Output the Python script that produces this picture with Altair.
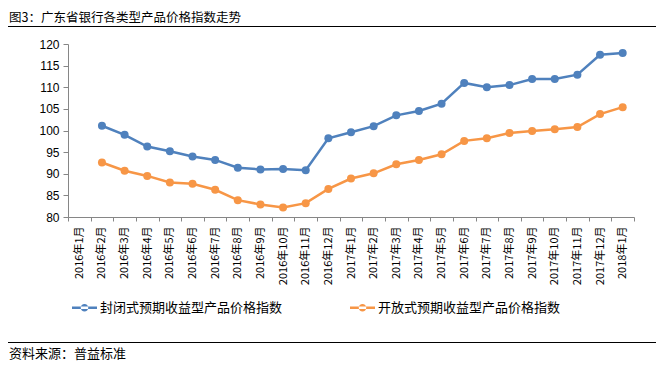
import altair as alt
import pandas as pd

months = ["2016年1月", "2016年2月", "2016年3月", "2016年4月", "2016年5月", "2016年6月",
          "2016年7月", "2016年8月", "2016年9月", "2016年10月", "2016年11月", "2016年12月",
          "2017年1月", "2017年2月", "2017年3月", "2017年4月", "2017年5月", "2017年6月",
          "2017年7月", "2017年8月", "2017年9月", "2017年10月", "2017年11月", "2017年12月",
          "2018年1月"]
closed_idx = [None, 101.1, 99.0, 96.3, 95.2, 94.0, 93.2, 91.4, 91.0, 91.1, 90.8, 98.2,
              99.6, 101.0, 103.5, 104.5, 106.2, 111.0, 110.0, 110.5, 111.9, 111.9, 112.9,
              117.5, 117.9]
open_idx = [None, 92.6, 90.7, 89.5, 88.0, 87.7, 86.3, 83.9, 82.9, 82.2, 83.2, 86.5,
            88.9, 90.1, 92.2, 93.2, 94.5, 97.6, 98.2, 99.4, 99.9, 100.3, 100.8,
            103.8, 105.4]
series_names = ["封闭式预期收益型产品价格指数", "开放式预期收益型产品价格指数"]
colors = ["#4F81BD", "#F79646"]
y_ticks = [80, 85, 90, 95, 100, 105, 110, 115, 120]
title_text = "图3：广东省银行各类型产品价格指数走势"
source_text = "资料来源：普益标准"

rows = []
for name, vals in zip(series_names, [closed_idx, open_idx]):
    for m, v in zip(months, vals):
        if v is not None:
            rows.append({"month": m, "value": v, "series": name})
df = pd.DataFrame(rows)

CJK = "Noto Sans CJK SC"
W, H = 566, 173

x_enc = alt.X("month:N", sort=months,
              scale=alt.Scale(type="band", domain=months, paddingInner=0, paddingOuter=0),
              axis=alt.Axis(title=None, labelAngle=270, labelAlign="right", labelBaseline="middle",
                            labelFont=CJK, labelFontSize=11, labelColor="#000000",
                            tickBand="extent", tickSize=4, labelPadding=5,
                            domainColor="#868686", tickColor="#868686", labelOverlap=False))
y_enc = alt.Y("value:Q", scale=alt.Scale(domain=[80, 120], nice=False, zero=False),
              axis=alt.Axis(title=None, values=y_ticks, grid=False, tickSize=5,
                            labelFont="Liberation Sans", labelFontSize=12, labelColor="#000000",
                            domainColor="#868686", tickColor="#868686", labelPadding=4))
color_scale = alt.Scale(domain=series_names, range=colors)

legend_path = ("M-1,-0.1H1V0.1H-1Z "
               "M-0.3,0A0.3,0.3 0 1,0 0.3,0A0.3,0.3 0 1,0 -0.3,0Z")

lines = alt.Chart(df).mark_line(strokeWidth=2.5).encode(
    x=x_enc, y=y_enc,
    color=alt.Color("series:N", scale=color_scale, legend=None),
)
points = alt.Chart(df).mark_point(filled=True, size=64, opacity=1).encode(
    x=x_enc, y=y_enc,
    color=alt.Color("series:N", scale=color_scale,
                    legend=alt.Legend(title=None, orient="none", legendX=4, legendY=251,
                                      direction="horizontal", columns=2, columnPadding=67,
                                      symbolType=legend_path, symbolSize=625,
                                      symbolStrokeWidth=0, labelFont=CJK, labelFontSize=13,
                                      labelColor="#000000", labelOffset=3, labelLimit=400)),
)
plot = alt.layer(lines, points).resolve_scale(color="independent")

deco = pd.DataFrame({"k": [0]})
title = alt.Chart(deco).mark_text(align="left", baseline="middle", font=CJK, fontSize=12.5,
                                  color="#000000").encode(
    x=alt.value(-59), y=alt.value(-26), text=alt.value(title_text))
title_rule = alt.Chart(deco).mark_rule(color="#000000", strokeWidth=1).encode(
    x=alt.value(-60), x2=alt.value(588), y=alt.value(-17.5))
src_rule = alt.Chart(deco).mark_rule(color="#000000", strokeWidth=1).encode(
    x=alt.value(-60), x2=alt.value(588), y=alt.value(298.5))
src = alt.Chart(deco).mark_text(align="left", baseline="middle", font=CJK, fontSize=13,
                                color="#000000").encode(
    x=alt.value(-59), y=alt.value(310), text=alt.value(source_text))

chart = alt.layer(plot, title, title_rule, src_rule, src).properties(
    width=W, height=H,
    autosize=alt.AutoSizeParams(type="none"),
    padding={"left": 60, "top": 36, "right": 22, "bottom": 145},
    background="#ffffff",
).configure_view(stroke=None)

chart.save("out.html", embed_options={"renderer": "svg", "actions": False})
